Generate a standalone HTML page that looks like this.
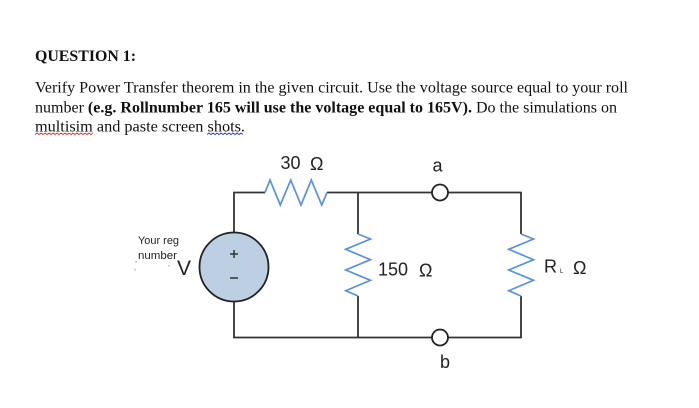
<!DOCTYPE html>
<html><head><meta charset="utf-8"><style>
html,body{margin:0;padding:0;background:#fff}
svg{display:block;filter:blur(.35px)}
.s{font-family:"Liberation Serif",serif;font-size:15.6px;fill:#111}
.b{font-weight:bold}
.a{font-family:"Liberation Sans",sans-serif;fill:#222}
</style></head><body>
<svg width="699" height="408" viewBox="0 0 699 408" xmlns="http://www.w3.org/2000/svg">
<text class="s b" x="35" y="61" textLength="101" lengthAdjust="spacingAndGlyphs">QUESTION 1:</text>
<text class="s" x="35" y="92.500" textLength="593" lengthAdjust="spacingAndGlyphs">Verify Power Transfer theorem in the given circuit. Use the voltage source equal to your roll</text>
<text class="s" x="35" y="112.500" textLength="582" lengthAdjust="spacingAndGlyphs">number <tspan class="b">(e.g. Rollnumber 165 will use the voltage equal to 165V).</tspan> Do the simulations on</text>
<text class="s" x="35" y="131.500" textLength="210" lengthAdjust="spacingAndGlyphs">multisim and paste screen shots.</text>
<path d="M35 134.500l2-1.500 2 1.500 2-1.500 2 1.500 2-1.500 2 1.500 2-1.500 2 1.500 2-1.500 2 1.500 2-1.500 2 1.500 2-1.500 2 1.500 2-1.500 2 1.500 2-1.500 2 1.500 2-1.500 2 1.500 2-1.500 2 1.500 2-1.500 2 1.500 2-1.500 2 1.500 2-1.500 2 1.500 2-1.500" fill="none" stroke="#d33" stroke-width=".9"/>
<path d="M207 134.500l2-1.500 2 1.500 2-1.500 2 1.500 2-1.500 2 1.500 2-1.500 2 1.500 2-1.500 2 1.500 2-1.500 2 1.500 2-1.500 2 1.500 2-1.500 2 1.500 2-1.500 2 1.500" fill="none" stroke="#33c" stroke-width=".9"/>
<g fill="none" stroke="#333" stroke-width="1.800">
<path d="M234 233V192.500H265M327 192.500H432M448 192.500H521V234M521 296V337.500H448M432 337.500H234V301"/>
<path d="M358 192.500V234M358 296V337.500"/>
<circle cx="440" cy="192.500" r="8" fill="#fff" stroke="#222"/>
<circle cx="440" cy="337.500" r="8" fill="#fff" stroke="#222"/>
<circle cx="234" cy="267" r="34.500" fill="#bccfe3" stroke="#222"/>
</g>
<g fill="none" stroke="#5b92dc" stroke-width="1.700">
<path d="M265 192.500L270 180 280.300 205 290.700 180 301 205 311.300 180 321.700 205 327 192.500"/>
<path d="M358 234L370.500 239 345.700 249.300 370.500 259.700 345.700 270 370.500 280.300 345.700 290.700 358 296"/>
<path d="M521 234L533.500 239 508.700 249.300 533.500 259.700 508.700 270 533.500 280.300 508.700 290.700 521 296"/>
</g>
<path d="M230 254h8M234 250v8M230 278h8" stroke="#333" stroke-width="1.500"/>
<path d="M136 261v1.500M135 269v1.500M169 265v1.500" stroke="#777" stroke-width=".8"/>
<g class="a">
<text x="280.500" y="169" font-size="18" class="a">30</text>
<text x="310" y="170" font-size="18" class="a">Ω</text>
<text x="432.500" y="171.500" font-size="18" class="a">a</text>
<text x="378" y="275.500" font-size="18" class="a">150</text>
<text x="419" y="276.500" font-size="18" class="a">Ω</text>
<text x="544" y="272.500" font-size="18" class="a">R</text>
<text x="560" y="273" font-size="6" class="a">L</text>
<text x="573" y="274" font-size="18" class="a">Ω</text>
<text x="440" y="368" font-size="18" class="a">b</text>
<text x="138" y="244" font-size="11" class="a" textLength="41" lengthAdjust="spacingAndGlyphs">Your reg</text>
<text x="138" y="259" font-size="11" class="a" textLength="39" lengthAdjust="spacingAndGlyphs">number</text>
<text x="177" y="275" font-size="21" class="a">V</text>
</g>
</svg>
</body></html>
